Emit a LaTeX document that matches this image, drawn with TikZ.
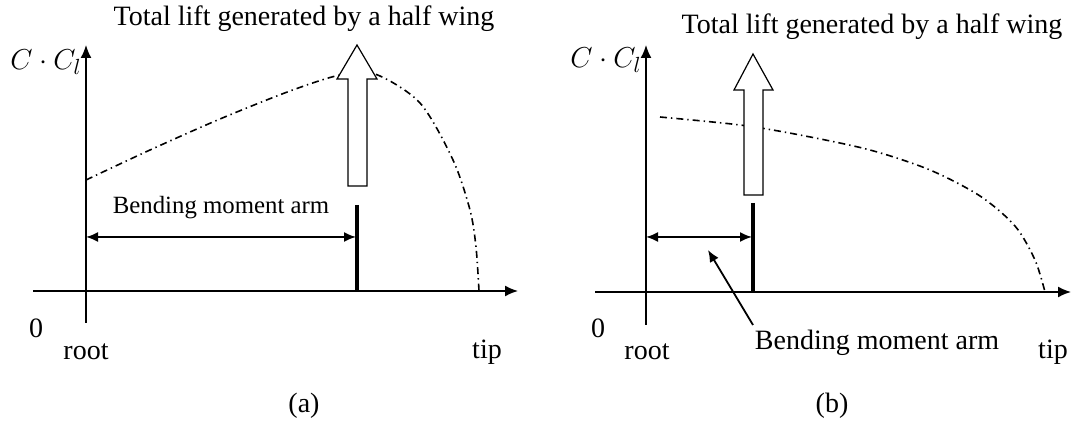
\documentclass[tikz,border=0pt]{standalone}
\usepackage{fontspec}
\setmainfont{Liberation Serif}
\usepackage{amsmath}
\usetikzlibrary{arrows.meta}

\tikzset{
  axis/.style={line width=0.8pt, -{Latex[length=6.5pt,width=5.5pt]}},
  armline/.style={line width=0.9pt, {Latex[length=6pt,width=5pt]}-{Latex[length=6pt,width=5pt]}},
  lift/.style={line width=0.6pt, fill=white},
  cline/.style={line width=0.8pt, dash pattern=on 3.5pt off 2pt on 0.7pt off 2pt},
  lbl/.style={font=\fontsize{14}{16}\selectfont, inner sep=0pt},
  slbl/.style={font=\fontsize{12.4}{14}\selectfont, inner sep=0pt}
}

\begin{document}
\begin{tikzpicture}[x=0.5pt, y=-0.5pt]
    \useasboundingbox (0,0) rectangle (1072,421);
    % (a)
    \coordinate (ya0) at (86,323); \coordinate (ya1) at (86,45);
    \coordinate (xa0) at (33,291); \coordinate (xa1) at (518,291);
    \draw[axis] (ya0) -- (ya1); \draw[axis] (xa0) -- (xa1);
    \node[lbl] (cla) at (46,62) {\fontsize{15}{16}\selectfont$C\cdot C_l$};
    \node[lbl] (zeroa) at (36,328) {0};
    \node[lbl] (roota) at (86,352) {root};
    \node[lbl] (tipa) at (487,352) {tip};
    \node[lbl] (capa) at (304,406) {(a)};
    \draw[cline] plot[smooth] coordinates {(86,180) (150,150) (220,119)
      (290,91) (340,75) (375,74) (420,103) (453,160) (470,210) (476,247)
      (479,291)};
    \draw[lift] (348,186) -- (348,79) -- (337,79) -- (357,45) -- (377,79)
      -- (367,79) -- (367,186) -- cycle;
    \node[lbl] (titlea) at (304,19) {Total lift generated by a half wing};
    \coordinate (fa0) at (357,205); \coordinate (fa1) at (357,291);
    \draw[line width=1.6pt] (fa0) -- (fa1);
    \coordinate (arma0) at (86,237); \coordinate (arma1) at (356,237);
    \draw[armline] (arma0) -- (arma1);
    \node[slbl] (bma) at (221,208) {Bending moment arm};
    % (b)
    \coordinate (yb0) at (646,325); \coordinate (yb1) at (646,45);
    \coordinate (xb0) at (595,292); \coordinate (xb1) at (1071,292);
    \draw[axis] (yb0) -- (yb1); \draw[axis] (xb0) -- (xb1);
    \node[lbl] (clb) at (606,60) {\fontsize{15}{16}\selectfont$C\cdot C_l$};
    \node[lbl] (zerob) at (598,328) {0};
    \node[lbl] (rootb) at (647,352) {root};
    \node[lbl] (tipb) at (1053,352) {tip};
    \node[lbl] (capb) at (832,406) {(b)};
    \draw[cline] plot[smooth] coordinates {(660,117) (740,125) (800,135)
      (870,150) (930,170) (980,196) (1015,226) (1035,260) (1045,292)};
    \draw[lift] (744,195) -- (744,90) -- (734,90) -- (753,54) -- (773,90)
      -- (763,90) -- (763,195) -- cycle;
    \node[lbl] (titleb) at (872,27) {Total lift generated by a half wing};
    \coordinate (fb0) at (753,203); \coordinate (fb1) at (753,292);
    \draw[line width=1.6pt] (fb0) -- (fb1);
    \coordinate (armb0) at (646,237); \coordinate (armb1) at (752,237);
    \draw[armline] (armb0) -- (armb1);
    \node[lbl] (bmb) at (877,343) {Bending moment arm};
    \coordinate (ptb0) at (753,325); \coordinate (ptb) at (708,250);
    \draw[line width=0.9pt, -{Latex[length=6pt,width=5pt]}] (ptb0) -- (ptb);
  \end{tikzpicture}
\end{document}
